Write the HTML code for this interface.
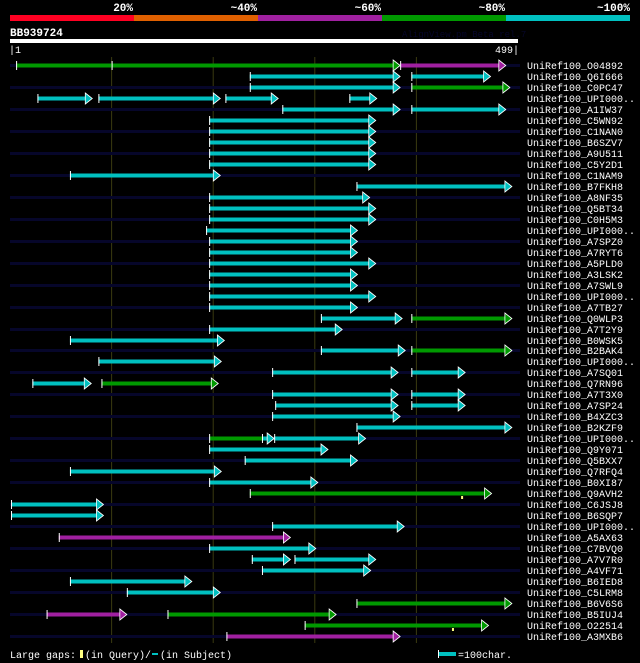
<!DOCTYPE html>
<html><head><meta charset="utf-8"><style>
html,body{margin:0;padding:0;background:#000;}
svg{display:block;}
text{font-family:"Liberation Mono","DejaVu Sans Mono",monospace;}
</style></head><body>
<svg id="chart" width="640" height="663" viewBox="0 0 640 663" xmlns="http://www.w3.org/2000/svg">
<rect x="0" y="0" width="640" height="663" fill="#000"/>
<g>
<rect x="10" y="15" width="124" height="6" fill="#ff0022"/>
<rect x="134" y="15" width="124" height="6" fill="#e06000"/>
<rect x="258" y="15" width="124" height="6" fill="#a020a0"/>
<rect x="382" y="15" width="124" height="6" fill="#009900"/>
<rect x="506" y="15" width="124" height="6" fill="#00c0c0"/>
<text x="133" y="11" fill="#fff" font-size="11" font-weight="bold" text-anchor="end">20%</text>
<text x="257" y="11" fill="#fff" font-size="11" font-weight="bold" text-anchor="end">~40%</text>
<text x="381" y="11" fill="#fff" font-size="11" font-weight="bold" text-anchor="end">~60%</text>
<text x="505" y="11" fill="#fff" font-size="11" font-weight="bold" text-anchor="end">~80%</text>
<text x="630" y="11" fill="#fff" font-size="11" font-weight="bold" text-anchor="end">~100%</text>
</g>
<text x="10" y="36" fill="#fff" font-size="11" font-weight="bold">BB939724</text>
<text x="402" y="37" fill="#06062a" font-size="9">AlignView.pm Beta rel.7</text>
<rect x="10" y="39" width="508" height="4" fill="#fff"/>
<text x="9" y="53" fill="#fff" font-size="10">|1</text>
<text x="519" y="53" fill="#fff" font-size="10" text-anchor="end">499|</text>
<g id="grid"></g>
<g id="rows"></g>
<g>
<text x="10" y="658" fill="#fff" font-size="10">Large gaps:</text>
<rect x="80" y="650" width="3" height="8" fill="#ffff80"/>
<text x="85" y="658" fill="#fff" font-size="10">(in Query)/</text>
<rect x="152" y="653" width="6" height="2" fill="#00c0c0"/>
<text x="160" y="658" fill="#fff" font-size="10">(in Subject)</text>
<rect x="438" y="650" width="1" height="8" fill="#fff"/>
<rect x="439" y="652" width="17" height="4" fill="#00c0c0"/>
<text x="458" y="658" fill="#fff" font-size="10">=100char.</text>
</g>
</svg>
<script>
const gridTicks = [100, 200, 300, 400];
const hitNames = ["UniRef100_O04892","UniRef100_Q6I666","UniRef100_C0PC47","UniRef100_UPI000..","UniRef100_A1IW37","UniRef100_C5WN92","UniRef100_C1NAN0","UniRef100_B6SZV7","UniRef100_A9U511","UniRef100_C5Y2D1","UniRef100_C1NAM9","UniRef100_B7FKH8","UniRef100_A8NF35","UniRef100_Q5BT34","UniRef100_C0H5M3","UniRef100_UPI000..","UniRef100_A7SPZ0","UniRef100_A7RYT6","UniRef100_A5PLD0","UniRef100_A3LSK2","UniRef100_A7SWL9","UniRef100_UPI000..","UniRef100_A7TB27","UniRef100_Q0WLP3","UniRef100_A7T2Y9","UniRef100_B0WSK5","UniRef100_B2BAK4","UniRef100_UPI000..","UniRef100_A7SQ01","UniRef100_Q7RN96","UniRef100_A7T3X0","UniRef100_A7SP24","UniRef100_B4XZC3","UniRef100_B2KZF9","UniRef100_UPI000..","UniRef100_Q9Y071","UniRef100_Q5BXX7","UniRef100_Q7RFQ4","UniRef100_B0XI87","UniRef100_Q9AVH2","UniRef100_C6JSJ8","UniRef100_B6SQP7","UniRef100_UPI000..","UniRef100_A5AX63","UniRef100_C7BVQ0","UniRef100_A7V7R0","UniRef100_A4VF71","UniRef100_B6IED8","UniRef100_C5LRM8","UniRef100_B6V6S6","UniRef100_B5IUJ4","UniRef100_O22514","UniRef100_A3MXB6"];
// segments per hit: [queryStart, queryEnd, identityClass, hasArrow(0/1)] ; c=cyan(~100%), g=green(~80%), m=magenta(~60%)
const hitSegments = [
[[6,100,"g",0],[100,384,"g",1],[384,488,"m",1]],
[[236,384,"c",1],[395,473,"c",1]],
[[236,384,"c",1],[395,492,"g",1]],
[[27,81,"c",1],[87,207,"c",1],[212,264,"c",1],[334,361,"c",1]],
[[268,384,"c",1],[395,488,"c",1]],
[[196,360,"c",1]],[[196,360,"c",1]],[[196,360,"c",1]],[[196,360,"c",1]],[[196,360,"c",1]],
[[59,207,"c",1]],
[[341,494,"c",1]],
[[196,354,"c",1]],[[196,360,"c",1]],[[196,360,"c",1]],
[[193,342,"c",1]],[[196,342,"c",1]],[[196,342,"c",1]],[[196,360,"c",1]],[[196,342,"c",1]],[[196,342,"c",1]],[[196,360,"c",1]],[[196,342,"c",1]],
[[306,386,"c",1],[395,494,"g",1]],
[[196,327,"c",1]],
[[59,211,"c",1]],
[[306,389,"c",1],[395,494,"g",1]],
[[87,208,"c",1]],
[[258,382,"c",1],[395,448,"c",1]],
[[22,80,"c",1],[90,205,"g",1]],
[[258,382,"c",1],[395,448,"c",1]],
[[261,382,"c",1],[395,448,"c",1]],
[[258,384,"c",1]],
[[341,494,"c",1]],
[[196,248,"g",0],[248,260,"c",1],[260,350,"c",1]],
[[196,313,"c",1]],
[[231,342,"c",1]],
[[59,208,"c",1]],
[[196,303,"c",1]],
[[236,474,"g",1]],
[[1,92,"c",1]],[[1,92,"c",1]],
[[258,388,"c",1]],
[[48,276,"m",1]],
[[196,301,"c",1]],
[[238,276,"c",1],[280,360,"c",1]],
[[248,355,"c",1]],
[[59,179,"c",1]],
[[115,207,"c",1]],
[[341,494,"g",1]],
[[36,115,"m",1],[155,321,"g",1]],
[[290,471,"g",1]],
[[213,384,"m",1]]
];
// query gap markers: [rowIndex, queryPos]
const queryGaps = [[39,444],[51,435]];
const palette = {c:"#00c0c0", g:"#009900", m:"#a020a0"};
const NS = "http://www.w3.org/2000/svg";
function xScale(p){ return 10 + p*1.016; }
function yRow(i){ return 65 + i*10.98; }
function mk(tag, attrs, parent){ const e=document.createElementNS(NS,tag); for(const k in attrs) e.setAttribute(k,attrs[k]); parent.appendChild(e); return e; }
const grid = document.getElementById('grid');
const rows = document.getElementById('rows');
gridTicks.forEach(t=>{
  const l = mk('line',{x1:xScale(t),x2:xScale(t),y1:57,y2:643,stroke:"#3a3a10","stroke-width":1},grid);
  
  
});
hitNames.forEach((name,i)=>{
  const y = Math.round(yRow(i));
  const g = mk('g',{},rows);
  
  
  if(i%2===0){
    const bg = mk('rect',{x:10,y:y-1,width:510,height:3,fill:"#06062a"},g);
    
    
  }
  hitSegments[i].forEach(s=>{
    const x1 = xScale(s[0]), x2 = xScale(s[1]);
    const col = palette[s[2]];
    const arrow = s[3]===1;
    const bar = mk('rect',{x:x1,y:y-1.5,width:Math.max(0,x2-(arrow?6:0)-x1),height:4,fill:col},g);
    
    
    const tick = mk('rect',{x:x1,y:y-4,width:1,height:9,fill:"#fff"},g);
    
    
    if(arrow){
      const ar = mk('polygon',{points:(x2-7)+","+(y-5)+" "+x2+","+(y+0.5)+" "+(x2-7)+","+(y+6),fill:col,stroke:"#fff","stroke-width":0.8},g);
      
      
    }
  });
  const t = mk('text',{x:527,y:y+4,fill:"#fff","font-size":10},g);
  t.textContent = name;
  
  
});
queryGaps.forEach(q=>{
  const y = Math.round(yRow(q[0]));
  const m = mk('rect',{x:xScale(q[1]),y:y+3,width:2,height:3,fill:"#ffff80"},rows);
  
  
});
</script>
</body></html>
